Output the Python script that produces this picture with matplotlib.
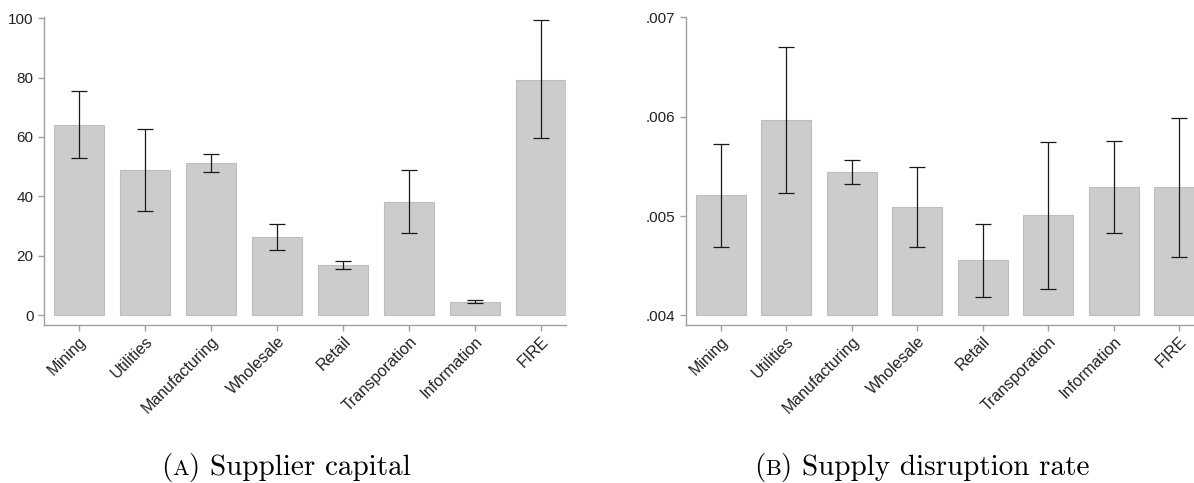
import matplotlib
matplotlib.use("Agg")
import matplotlib.pyplot as plt
import numpy as np

industries = ["Mining", "Utilities", "Manufacturing", "Wholesale", "Retail",
              "Transporation", "Information", "FIRE"]

# panel A: supplier capital
capital = [64.1, 48.9, 51.3, 26.3, 16.9, 38.2, 4.5, 79.3]
capital_hi = [75.5, 62.7, 54.2, 30.6, 18.3, 48.9, 5.2, 99.2]
capital_lo = [52.8, 35.1, 48.2, 22.0, 15.7, 27.7, 4.0, 59.5]
capital_ticks = [0, 20, 40, 60, 80, 100]

# panel B: supply disruption rate
disrupt = [0.005208, 0.005967, 0.005440, 0.005088, 0.004554, 0.005007, 0.005289, 0.005289]
disrupt_hi = [0.005728, 0.006705, 0.005567, 0.005496, 0.004922, 0.005748, 0.005752, 0.005990]
disrupt_lo = [0.004688, 0.005235, 0.005319, 0.004688, 0.004184, 0.004268, 0.004826, 0.004590]
disrupt_ticks = [0.004, 0.005, 0.006, 0.007]
disrupt_labels = [".004", ".005", ".006", ".007"]

BAR = "#cccccc"
EDGE = "#bdbdbd"
AXIS = "#a0a0a0"
TXT = "#222222"

plt.rcParams["font.family"] = ["Liberation Sans", "DejaVu Sans"]


def draw_panel(ax, vals, lo, hi, base, ylim, ticks, labels):
    x = np.arange(len(industries))
    vals = np.asarray(vals)
    ax.bar(x, vals - base, bottom=base, width=0.76, color=BAR,
           edgecolor=EDGE, linewidth=0.8, zorder=1)
    err = [vals - np.asarray(lo), np.asarray(hi) - vals]
    ax.errorbar(x, vals, yerr=err, fmt="none", ecolor="#1a1a1a",
                elinewidth=0.9, capsize=5.5, capthick=0.9, zorder=2)
    ax.set_xlim(-0.53, 7.38)
    ax.set_ylim(*ylim)
    ax.set_yticks(ticks)
    ax.set_yticklabels(labels)
    ax.set_xticks(x)
    ax.set_xticklabels(industries, rotation=45, ha="right",
                       rotation_mode="anchor")
    for s in ["top", "right"]:
        ax.spines[s].set_visible(False)
    for s in ["left", "bottom"]:
        ax.spines[s].set_color(AXIS)
        ax.spines[s].set_linewidth(1.0)
    ax.tick_params(colors=AXIS, labelcolor=TXT, labelsize=11, length=4,
                   width=1.0)
    ax.tick_params(axis="x", pad=2, labelsize=11.5)


fig = plt.figure(figsize=(11.94, 4.83), dpi=100)

ax1 = fig.add_axes([44 / 1194, 1 - 325.3 / 483, 522 / 1194, 307.8 / 483])
draw_panel(ax1, capital, capital_lo, capital_hi, 0, (-3.4, 100.2),
           capital_ticks, [str(t) for t in capital_ticks])

ax2 = fig.add_axes([686 / 1194, 1 - 325.3 / 483, 518 / 1194, 307.8 / 483])
draw_panel(ax2, disrupt, disrupt_lo, disrupt_hi, 0.004, (0.0039, 0.007),
           disrupt_ticks, disrupt_labels)

renderer = fig.canvas.get_renderer()


# captions with a small-caps letter, pieces placed one after another
def caption(x0, letter, rest):
    y0 = 8 / 483
    x = x0
    for s, size in [("(", 21), (letter, 16), (rest, 21)]:
        t = fig.text(x, y0, s, fontsize=size, family="cmr10", color="black",
                     ha="left", va="baseline")
        w = t.get_window_extent(renderer).width
        x += w / fig.bbox.width


caption(161 / 1194, "A", ") Supplier capital")
caption(754 / 1194, "B", ") Supply disruption rate")

fig.savefig("out.png", dpi=100)
